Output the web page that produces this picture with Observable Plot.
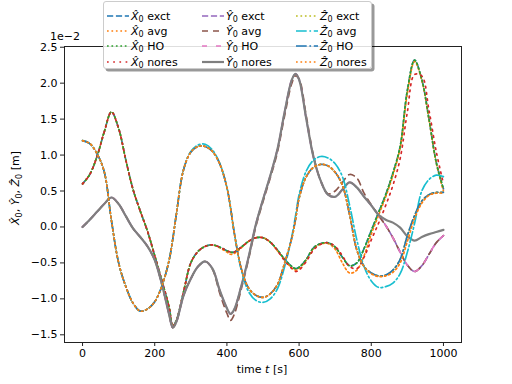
<!DOCTYPE html>
<html><head><meta charset="utf-8">
<script src="https://cdn.jsdelivr.net/npm/d3@7"></script>
<script src="https://cdn.jsdelivr.net/npm/@observablehq/plot@0.6"></script>
<style>
body{margin:0;background:#fff;}
#wrap{position:relative;width:512px;height:384px;font-family:"DejaVu Sans",sans-serif;}
#legend{position:absolute;left:103px;top:1px;width:267px;height:66px;background:rgba(255,255,255,0.85);border:1px solid #cccccc;border-radius:3px;box-shadow:2.5px 2.5px 0 rgba(0,0,0,0.4);font-size:11px;color:#000;}
.item{position:absolute;display:flex;align-items:center;white-space:nowrap;height:14px;}
.item svg{margin-right:2px;}
.item i{font-style:italic;}
.item sub{font-size:8px;vertical-align:-2px;line-height:0;}
</style></head><body><div id="wrap"></div>
<script>
// time grid [s]
const T = [0,20,40,60,80,100,120,140,160,180,200,220,240,250,260,280,300,320,340,360,380,400,410,420,440,460,480,500,520,540,560,580,590,600,620,640,660,680,700,720,740,760,780,800,820,840,860,880,900,920,940,960,980,1000];

// values in units of 1e-2 m
const xExct  = [0.60,0.73,0.98,1.32,1.60,1.37,0.93,0.52,0.22,-0.06,-0.40,-0.75,-1.12,-1.38,-1.30,-0.90,-0.50,-0.34,-0.27,-0.25,-0.28,-0.33,-0.35,-0.35,-0.28,-0.20,-0.15,-0.15,-0.21,-0.32,-0.45,-0.55,-0.58,-0.56,-0.45,-0.29,-0.23,-0.22,-0.28,-0.42,-0.54,-0.50,-0.30,-0.05,0.20,0.45,0.75,1.12,1.90,2.32,2.05,1.50,0.90,0.53];
const xAvg   = [0.60,0.73,0.98,1.32,1.60,1.37,0.93,0.52,0.22,-0.06,-0.40,-0.75,-1.12,-1.38,-1.30,-0.90,-0.50,-0.34,-0.27,-0.25,-0.29,-0.35,-0.38,-0.37,-0.29,-0.20,-0.15,-0.15,-0.21,-0.33,-0.46,-0.57,-0.60,-0.58,-0.46,-0.30,-0.24,-0.23,-0.31,-0.50,-0.64,-0.60,-0.40,-0.10,0.16,0.42,0.72,1.10,1.86,2.30,2.04,1.49,0.89,0.50];
const xHO    = [0.60,0.73,0.98,1.32,1.60,1.37,0.93,0.52,0.22,-0.06,-0.40,-0.75,-1.12,-1.38,-1.30,-0.90,-0.50,-0.34,-0.27,-0.25,-0.28,-0.33,-0.35,-0.35,-0.28,-0.20,-0.15,-0.15,-0.21,-0.32,-0.45,-0.55,-0.58,-0.56,-0.45,-0.29,-0.23,-0.22,-0.28,-0.42,-0.54,-0.50,-0.30,-0.05,0.20,0.45,0.75,1.12,1.90,2.32,2.05,1.50,0.90,0.53];
const xNores = [0.60,0.73,0.98,1.32,1.60,1.37,0.93,0.52,0.22,-0.06,-0.40,-0.75,-1.12,-1.38,-1.30,-0.90,-0.50,-0.34,-0.27,-0.25,-0.28,-0.33,-0.35,-0.35,-0.28,-0.20,-0.15,-0.15,-0.21,-0.33,-0.47,-0.58,-0.62,-0.60,-0.48,-0.32,-0.24,-0.22,-0.27,-0.40,-0.55,-0.58,-0.42,-0.18,0.05,0.30,0.58,0.95,1.60,2.12,2.10,1.62,1.05,0.60];

const yExct  = [0.00,0.10,0.21,0.32,0.41,0.32,0.15,-0.02,-0.14,-0.27,-0.46,-0.80,-1.22,-1.40,-1.32,-0.95,-0.72,-0.55,-0.48,-0.58,-0.88,-1.13,-1.21,-1.15,-0.82,-0.42,0.03,0.38,0.71,1.08,1.60,2.05,2.13,2.05,1.50,0.97,0.64,0.45,0.42,0.52,0.62,0.55,0.42,0.30,0.17,0.02,-0.15,-0.35,-0.53,-0.62,-0.54,-0.38,-0.22,-0.12];
const yAvg   = [0.00,0.10,0.21,0.32,0.41,0.32,0.15,-0.02,-0.14,-0.27,-0.46,-0.80,-1.22,-1.40,-1.32,-0.95,-0.72,-0.55,-0.48,-0.59,-0.92,-1.20,-1.30,-1.22,-0.86,-0.45,0.00,0.35,0.68,1.04,1.55,2.00,2.10,2.06,1.54,0.99,0.64,0.46,0.50,0.62,0.73,0.68,0.47,0.31,0.16,0.02,-0.15,-0.35,-0.53,-0.62,-0.54,-0.38,-0.22,-0.12];
const yHO    = [0.00,0.10,0.21,0.32,0.41,0.32,0.15,-0.02,-0.14,-0.27,-0.46,-0.80,-1.22,-1.40,-1.32,-0.95,-0.72,-0.55,-0.48,-0.58,-0.88,-1.13,-1.21,-1.15,-0.82,-0.42,0.03,0.38,0.71,1.08,1.60,2.05,2.13,2.05,1.50,0.97,0.64,0.45,0.42,0.52,0.62,0.55,0.42,0.30,0.17,0.02,-0.15,-0.35,-0.53,-0.62,-0.54,-0.38,-0.22,-0.12];
const yNores = [0.00,0.10,0.21,0.32,0.41,0.32,0.15,-0.02,-0.14,-0.27,-0.46,-0.80,-1.22,-1.40,-1.32,-0.95,-0.72,-0.55,-0.48,-0.58,-0.88,-1.13,-1.21,-1.15,-0.82,-0.42,0.03,0.38,0.71,1.08,1.60,2.05,2.13,2.05,1.50,0.97,0.64,0.45,0.42,0.52,0.62,0.55,0.42,0.30,0.17,0.10,0.06,-0.01,-0.13,-0.19,-0.14,-0.10,-0.07,-0.04];

const zExct  = [1.20,1.16,1.02,0.77,0.09,-0.50,-0.83,-1.06,-1.17,-1.14,-1.04,-0.82,-0.46,-0.17,0.18,0.80,1.04,1.12,1.12,1.05,0.88,0.55,0.27,-0.07,-0.58,-0.85,-0.95,-0.98,-0.93,-0.80,-0.50,-0.15,0.10,0.40,0.70,0.83,0.87,0.85,0.76,0.58,0.17,-0.32,-0.55,-0.64,-0.68,-0.67,-0.60,-0.45,-0.12,0.16,0.36,0.45,0.48,0.48];
const zAvg   = [1.20,1.16,1.02,0.77,0.09,-0.50,-0.83,-1.06,-1.17,-1.14,-1.04,-0.82,-0.46,-0.17,0.18,0.80,1.05,1.14,1.15,1.07,0.89,0.55,0.27,-0.07,-0.60,-0.90,-1.02,-1.05,-1.00,-0.86,-0.55,-0.13,0.15,0.45,0.78,0.93,0.98,0.96,0.88,0.70,0.30,-0.18,-0.55,-0.75,-0.84,-0.83,-0.78,-0.65,-0.35,0.05,0.50,0.66,0.72,0.70];
const zHO    = [1.20,1.16,1.02,0.77,0.09,-0.50,-0.83,-1.06,-1.17,-1.14,-1.04,-0.82,-0.46,-0.17,0.18,0.80,1.04,1.12,1.12,1.05,0.88,0.55,0.27,-0.07,-0.58,-0.85,-0.95,-0.98,-0.93,-0.80,-0.50,-0.15,0.10,0.40,0.70,0.83,0.87,0.85,0.76,0.58,0.17,-0.32,-0.55,-0.64,-0.68,-0.67,-0.60,-0.45,-0.12,0.16,0.36,0.45,0.48,0.48];
const zNores = [1.20,1.16,1.02,0.77,0.09,-0.50,-0.83,-1.06,-1.17,-1.14,-1.04,-0.82,-0.46,-0.17,0.18,0.80,1.04,1.12,1.12,1.05,0.88,0.55,0.27,-0.07,-0.58,-0.85,-0.95,-0.98,-0.93,-0.80,-0.50,-0.15,0.10,0.40,0.70,0.83,0.87,0.85,0.76,0.58,0.17,-0.32,-0.55,-0.65,-0.69,-0.68,-0.63,-0.50,-0.20,0.12,0.33,0.44,0.47,0.47];

const components = ["X","Y","Z"];
const variants = ["exct","avg","HO","nores"];
const seriesValues = [xExct,xAvg,xHO,xNores,yExct,yAvg,yHO,yNores,zExct,zAvg,zHO,zNores];
const colors = ["#1f77b4","#ff7f0e","#2ca02c","#d62728","#9467bd","#8c564b","#e377c2","#7f7f7f","#bcbd22","#17becf","#1f77b4","#ff7f0e"];
const dashes = ["6.2,2.7","1.7,2.75","1.7,2.75","1.7,4.5","6.2,2.7","6,5","5,9",null,"1.7,2.75","10.7,2.7,1.7,2.7","10.7,2.7,1.7,2.7","1.7,2.75"];
const widths = [1.67,1.67,1.67,1.67,1.67,1.67,1.67,2.2,1.67,1.67,1.67,1.67];
const xTicks = [0,200,400,600,800,1000];
const yTicks = [-1.5,-1.0,-0.5,0.0,0.5,1.0,1.5,2.0,2.5];

const lines = seriesValues.map((vals, k) => Plot.line(vals, {
  x: (d, i) => T[i], y: d => d,
  stroke: colors[k], strokeWidth: widths[k],
  strokeDasharray: dashes[k] || undefined,
  curve: "catmull-rom"
}));

const fmt = d => d.toFixed(1).replace("-", "\u2212");

const chart = Plot.plot({
  width: 512, height: 384,
  marginLeft: 64, marginRight: 51, marginTop: 46, marginBottom: 42,
  x: {domain: [-50, 1050]},
  y: {domain: [-1.607, 2.51]},
  style: {fontFamily: "DejaVu Sans", fontSize: "11px", color: "black", background: "white"},
  marks: [
    ...lines,
    Plot.frame({stroke: "#222", strokeWidth: 1}),
    Plot.axisX({ticks: xTicks, tickSize: 4, tickPadding: 3, label: null, tickFormat: d => String(d), stroke: "#222"}),
    Plot.axisY({ticks: yTicks, tickSize: 4, tickPadding: 3, label: null, tickFormat: fmt, stroke: "#222"})
  ]
});
const wrap = document.getElementById("wrap");
wrap.appendChild(chart);

const svg = d3.select(chart);
// offset text
svg.append("text").attr("x", 65).attr("y", 40).attr("font-size", 11).attr("fill", "black").text("1e\u22122");
// x label
const xl = svg.append("text").attr("x", 262).attr("y", 373).attr("text-anchor", "middle").attr("font-size", 11).attr("fill", "black");
xl.append("tspan").text("time ");
xl.append("tspan").attr("font-style", "italic").text("t");
xl.append("tspan").text(" [s]");
// y label
const yl = svg.append("text").attr("transform", "translate(19,188) rotate(-90)").attr("text-anchor", "middle").attr("font-size", 11).attr("fill", "black");
components.forEach((c, i) => {
  yl.append("tspan").attr("font-style", "italic").text(c + "\u0302");
  yl.append("tspan").attr("font-size", 8).attr("dy", 2.5).text("0");
  yl.append("tspan").attr("dy", -2.5).text(i < 2 ? ", " : " [m]");
});

// legend
const leg = document.createElement("div");
leg.id = "legend";
wrap.appendChild(leg);
const colX = [3, 98, 192];
const rowY = [7, 22, 37, 53];
components.forEach((c, ci) => {
  variants.forEach((v, vi) => {
    const k = ci * 4 + vi;
    const it = document.createElement("div");
    it.className = "item";
    it.style.left = colX[ci] + "px";
    it.style.top = rowY[vi] + "px";
    const da = dashes[k] ? `stroke-dasharray="${dashes[k]}"` : "";
    it.innerHTML = `<svg width="22" height="10"><line x1="0" y1="5" x2="22" y2="5" stroke="${colors[k]}" stroke-width="${widths[k]}" ${da}/></svg><span><i>${c}\u0302</i><sub>0</sub> ${v}</span>`;
    leg.appendChild(it);
  });
});
</script></body></html>
